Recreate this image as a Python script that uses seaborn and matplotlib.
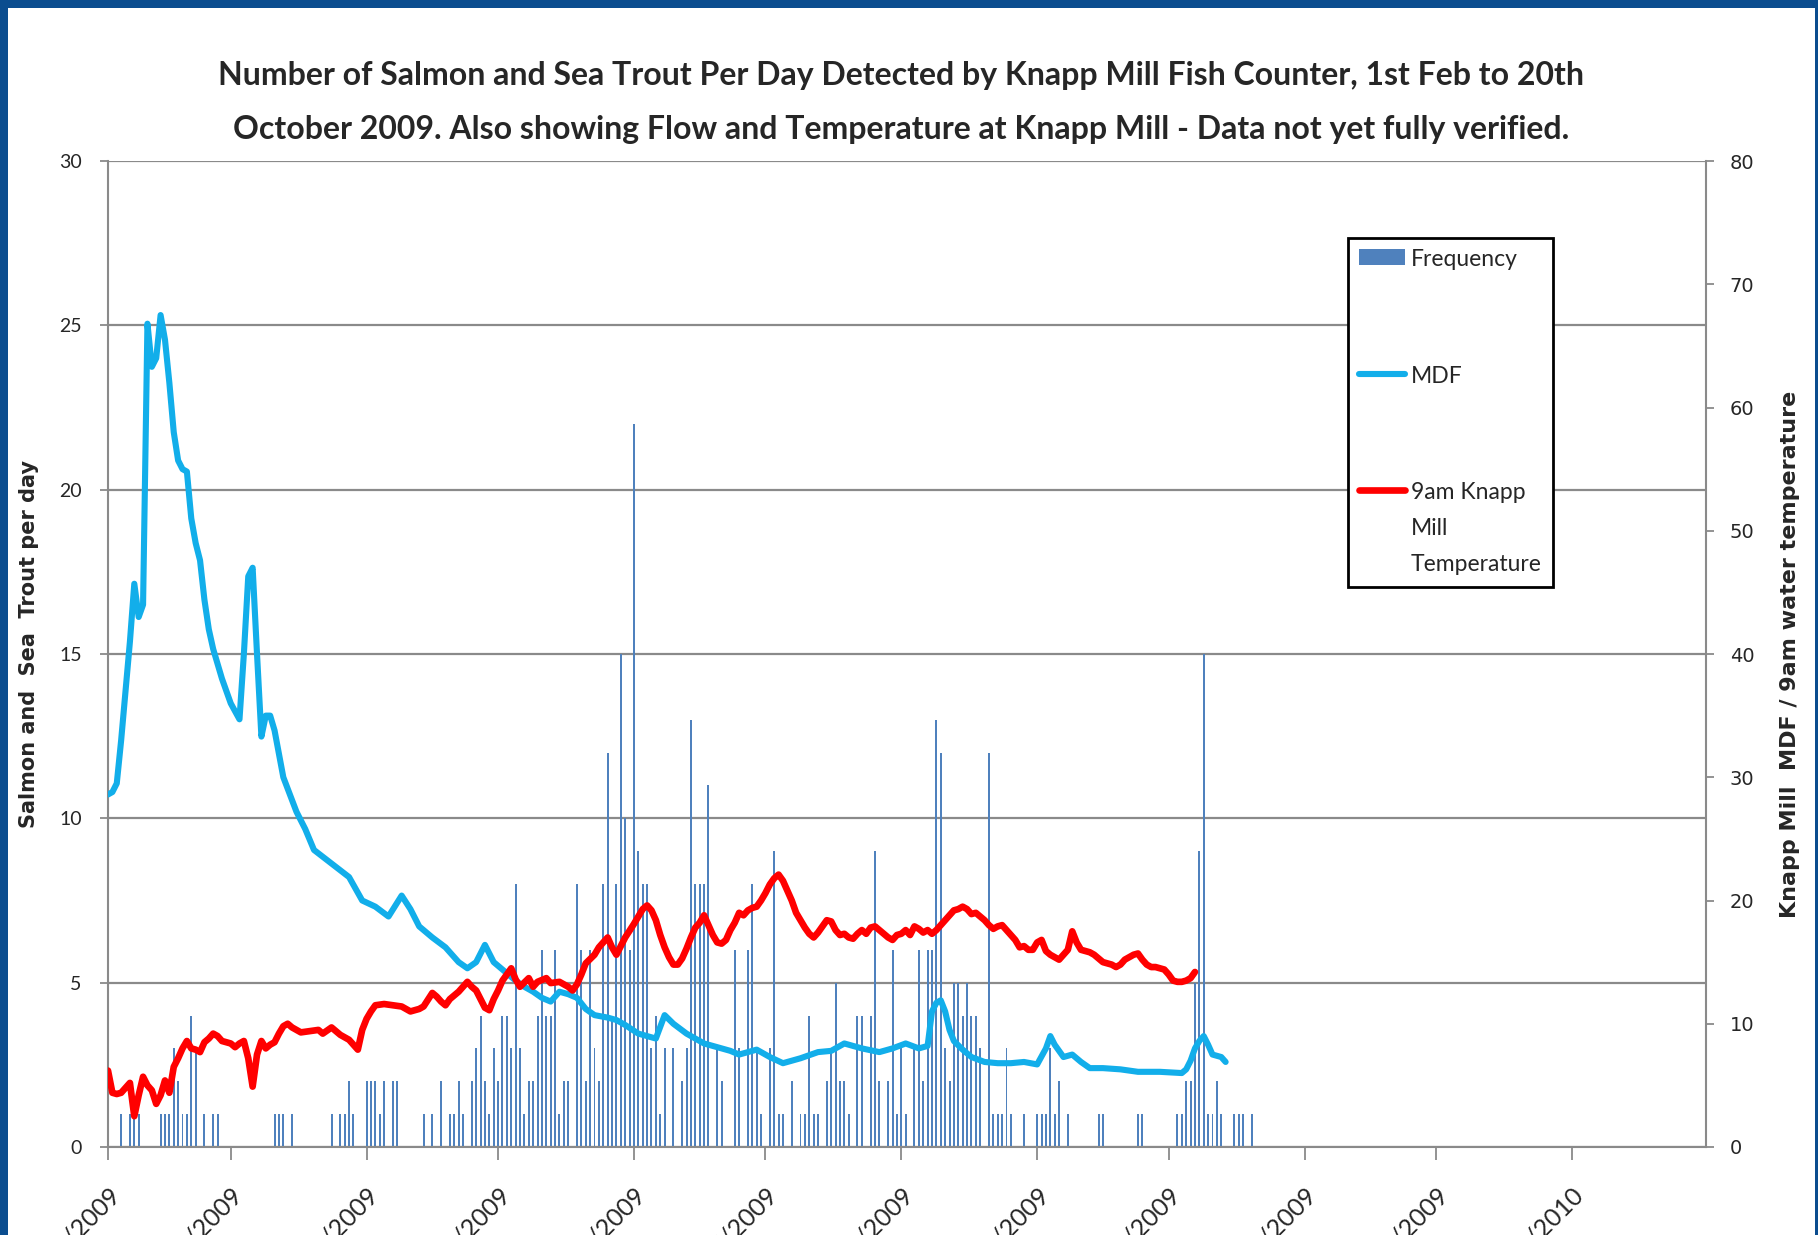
"""
Knapp Mill fish counter, Feb - Oct 2009.

Daily salmon / sea trout counts as bars (left axis),
MDF flow and 9am water temperature as lines (right axis).
"""

import matplotlib
matplotlib.use("Agg")
import matplotlib.pyplot as plt
import matplotlib.dates as mdates
from matplotlib.lines import Line2D
from matplotlib.patches import Patch, Rectangle
import pandas as pd
import seaborn as sns

SEASON_START = "2009-02-01"

# -- Daily fish counts, one list per month (Feb 1st .. Oct 20th) --
fish_feb = [0, 0, 0, 1, 0, 1, 1, 1, 0, 0, 0, 0, 1, 1, 1, 3, 2, 1, 1, 4,
            3, 0, 1, 0, 1, 1, 0, 0]
fish_mar = [0, 0, 0, 0, 0, 0, 0, 0, 0, 0, 1, 1, 1, 0, 1, 0, 0, 0, 0, 0,
            0, 0, 0, 1, 0, 1, 1, 2, 1, 0, 0]
fish_apr = [2, 2, 2, 1, 2, 0, 2, 2, 0, 0, 0, 0, 0, 1, 0, 1, 0, 2, 0, 1,
            1, 2, 1, 0, 2, 3, 4, 2, 1, 3]
fish_may = [2, 4, 4, 3, 8, 3, 1, 2, 2, 4, 6, 4, 4, 6, 1, 2, 2, 0, 8, 6,
            2, 6, 3, 2, 8, 12, 4, 8, 15, 10, 6]
fish_jun = [22, 9, 8, 8, 3, 4, 1, 3, 0, 3, 0, 2, 3, 13, 8, 8, 8, 11, 0, 3,
            2, 0, 0, 6, 3, 0, 6, 8, 3, 1]
fish_jul = [0, 3, 9, 1, 1, 0, 2, 0, 1, 1, 4, 1, 1, 0, 2, 3, 5, 2, 2, 1,
            0, 4, 4, 0, 4, 9, 2, 0, 2, 6, 1]
fish_aug = [3, 1, 0, 3, 6, 2, 6, 6, 13, 12, 3, 2, 5, 5, 4, 5, 4, 4, 3, 0,
            12, 1, 1, 1, 3, 1, 0, 0, 1, 0, 0]
fish_sep = [1, 1, 1, 3, 1, 2, 0, 1, 0, 0, 0, 0, 0, 0, 1, 1, 0, 0, 0, 0,
            0, 0, 0, 1, 1, 0, 0, 0, 0, 0]
fish_oct = [0, 0, 1, 1, 2, 2, 5, 9, 15, 1, 1, 2, 1, 0, 0, 1, 1, 1, 0, 1]

# -- MDF (flow), day offset from Feb 1st and reading --
mdf_day = [0, 1, 2, 3, 4, 5, 6, 7, 8, 9, 10, 11, 12, 13, 14, 15, 16, 17, 18, 19,
           20, 21, 22, 23, 24, 26, 28, 30, 31, 32, 33, 34, 35, 36, 37, 38, 40, 43,
           45, 47, 51, 55, 58, 61, 64, 67, 69, 71, 74, 77, 80, 82, 84, 86, 88, 90,
           93, 95, 97, 99, 101, 103, 105, 107, 109, 111, 114, 116, 118, 121, 123,
           125, 127, 129, 132, 134, 136, 139, 142, 144, 146, 148, 151, 154, 156,
           158, 162, 165, 168, 170, 172, 176, 179, 182, 185, 187, 188, 189, 190,
           191, 192, 193, 195, 197, 200, 203, 206, 209, 212, 214, 215, 216, 218,
           220, 222, 224, 227, 231, 235, 240, 245, 246, 247, 248, 249, 250, 251,
           252, 253, 254, 255]
mdf_value = [28.6, 28.8, 29.5, 33, 37, 41, 45.7, 43, 44, 66.8, 63.3, 64, 67.5, 65.5,
             62, 58, 55.7, 55, 54.8, 51, 49, 47.6, 44.4, 42, 40.4, 38, 36, 34.7, 40,
             46.3, 47, 40, 33.3, 35, 35, 33.8, 30, 27.2, 25.8, 24.1, 23, 21.9, 20,
             19.5, 18.7, 20.4, 19.3, 17.9, 17, 16.2, 15, 14.5, 15, 16.4, 15, 14.4,
             13.5, 13, 12.6, 12.1, 11.8, 12.6, 12.4, 12.1, 11.2, 10.7, 10.5, 10.3,
             9.9, 9.2, 9, 8.8, 10.7, 10.0, 9.2, 8.8, 8.4, 8.1, 7.8, 7.5, 7.7, 7.9,
             7.3, 6.8, 7, 7.2, 7.7, 7.8, 8.4, 8.2, 8, 7.7, 8, 8.4, 8, 8.2, 11, 11.7,
             11.9, 11, 9.5, 8.6, 7.9, 7.3, 6.9, 6.8, 6.8, 6.9, 6.7, 8, 9, 8.3, 7.3,
             7.5, 6.9, 6.4, 6.4, 6.3, 6.1, 6.1, 6, 6.3, 7, 8, 8.6, 9, 8.3, 7.5, 7.4,
             7.3, 6.9]

# -- 9am water temperature at Knapp Mill --
temp_day = [0, 1, 2, 3, 4, 5, 6, 7, 8, 9, 10, 11, 12, 13, 14, 15, 16, 17, 18, 19,
            20, 21, 22, 23, 24, 25, 26, 27, 28, 29, 30, 31, 32, 33, 34, 35, 36, 37,
            38, 39, 40, 41, 42, 44, 46, 48, 49, 51, 53, 55, 57, 58, 59, 60, 61, 63,
            65, 67, 69, 71, 72, 74, 75, 76, 77, 78, 80, 81, 82, 83, 84, 85, 86, 87,
            88, 89, 90, 91, 92, 93, 94, 96, 97, 98, 100, 101, 103, 105, 106, 107,
            108, 109, 111, 112, 114, 115, 116, 117, 118, 120, 122, 123, 124, 125,
            126, 127, 128, 129, 130, 131, 132, 133, 134, 135, 136, 137, 138, 139,
            140, 141, 142, 143, 144, 145, 146, 147, 148, 149, 150, 151, 152, 153,
            154, 155, 156, 157, 158, 159, 160, 161, 162, 163, 164, 165, 166, 167,
            168, 169, 170, 171, 172, 173, 174, 175, 176, 177, 178, 179, 180, 181,
            182, 183, 184, 185, 186, 187, 188, 189, 190, 191, 192, 193, 194, 195,
            196, 197, 198, 199, 200, 201, 202, 203, 204, 205, 206, 207, 208, 209,
            210, 211, 212, 213, 214, 215, 216, 217, 218, 219, 220, 221, 222, 223,
            224, 225, 226, 227, 228, 229, 230, 231, 232, 233, 234, 235, 236, 237,
            238, 239, 240, 241, 242, 243, 244, 245, 246, 247, 248]
temp_value = [6.2, 4.4, 4.3, 4.4, 4.8, 5.2, 2.5, 4.2, 5.7, 5.0, 4.6, 3.5, 4.2, 5.4,
              4.4, 6.5, 7.2, 8.0, 8.6, 8.0, 7.9, 7.7, 8.5, 8.8, 9.2, 9.0, 8.6, 8.5,
              8.4, 8.1, 8.4, 8.6, 7.2, 4.9, 7.5, 8.6, 8.0, 8.3, 8.5, 9.2, 9.8, 10.0,
              9.7, 9.3, 9.4, 9.5, 9.2, 9.7, 9.1, 8.7, 7.9, 9.5, 10.4, 11.0, 11.5,
              11.6, 11.5, 11.4, 11.0, 11.2, 11.4, 12.5, 12.2, 11.8, 11.5, 12.0, 12.6,
              13.0, 13.4, 13.0, 12.7, 12.0, 11.3, 11.1, 12.0, 12.7, 13.5, 14.0, 14.5,
              13.6, 13.0, 13.7, 13.0, 13.4, 13.7, 13.3, 13.4, 13.0, 12.7, 13.2, 14.0,
              14.9, 15.6, 16.2, 17.0, 16.2, 15.6, 16.3, 17.0, 18.1, 19.3, 19.6, 19.2,
              18.4, 17.2, 16.2, 15.4, 14.8, 14.8, 15.3, 16.1, 17.0, 17.8, 18.2, 18.8,
              18.0, 17.2, 16.6, 16.5, 16.8, 17.6, 18.2, 19.0, 18.8, 19.2, 19.4, 19.5,
              20.0, 20.6, 21.3, 21.8, 22.1, 21.6, 20.8, 20.0, 19.0, 18.4, 17.8, 17.3,
              17.0, 17.4, 17.9, 18.4, 18.3, 17.6, 17.2, 17.3, 17.0, 16.9, 17.3, 17.6,
              17.3, 17.8, 17.9, 17.6, 17.3, 17.0, 16.8, 17.2, 17.3, 17.6, 17.2, 17.9,
              17.7, 17.4, 17.6, 17.3, 17.6, 18.0, 18.4, 18.8, 19.2, 19.3, 19.5, 19.3,
              18.9, 19.0, 18.7, 18.4, 18.0, 17.7, 17.9, 18.0, 17.6, 17.2, 16.8, 16.2,
              16.3, 16.0, 16.0, 16.6, 16.8, 15.9, 15.6, 15.4, 15.2, 15.6, 16.0, 17.5,
              16.6, 16.0, 15.9, 15.8, 15.6, 15.3, 15.0, 14.9, 14.8, 14.6, 14.8, 15.2,
              15.4, 15.6, 15.7, 15.2, 14.8, 14.6, 14.6, 14.5, 14.4, 14.0, 13.5, 13.4,
              13.4, 13.5, 13.7, 14.2]

left_ticks = [0, 5, 10, 15, 20, 25, 30]
right_ticks = [0, 10, 20, 30, 40, 50, 60, 70, 80]

TITLE_LINES = [
    "Number of Salmon and Sea Trout Per Day Detected by Knapp Mill Fish Counter, 1st Feb to 20th",
    "October 2009. Also showing Flow and Temperature at Knapp Mill - Data not yet fully verified.",
]
LEFT_LABEL = "Salmon and  Sea  Trout per day"
RIGHT_LABEL = "Knapp Mill  MDF / 9am water temperature"
LEGEND_LABELS = ["Frequency", "MDF", "9am Knapp\nMill\nTemperature"]

BAR_COLOR = "#4f81bd"
MDF_COLOR = "#12aeea"
TEMP_COLOR = "#ff0000"
GRID_COLOR = "#8a8a8a"
FRAME_COLOR = "#0b4d8f"

# -- Build frames ---------------------------
start = pd.Timestamp(SEASON_START)
fish_counts = (fish_feb + fish_mar + fish_apr + fish_may + fish_jun
               + fish_jul + fish_aug + fish_sep + fish_oct)
fish_df = pd.DataFrame({
    "date": mdates.date2num(pd.date_range(start, periods=len(fish_counts), freq="D")),
    "count": fish_counts,
})
mdf_df = pd.DataFrame({
    "date": mdates.date2num(start + pd.to_timedelta(mdf_day, unit="D")),
    "mdf": mdf_value,
})
temp_df = pd.DataFrame({
    "date": mdates.date2num(start + pd.to_timedelta(temp_day, unit="D")),
    "temp": temp_value,
})

sns.set_style("white")
plt.rcParams["font.family"] = ["Lato", "DejaVu Sans"]

W, H = 1818, 1235
fig = plt.figure(figsize=(W / 100, H / 100), dpi=100, facecolor=FRAME_COLOR)
fig.add_artist(Rectangle((8 / W, 0), (W - 11) / W, (H - 8) / H,
                         transform=fig.transFigure, facecolor="white",
                         edgecolor="none", zorder=-10))

ax = fig.add_axes([108 / W, 88 / H, 1598 / W, 986 / H])
ax.set_facecolor("white")

# -- Bars: daily fish count -----------------
sns.barplot(data=fish_df, x="date", y="count", native_scale=True, width=0.45,
            color=BAR_COLOR, saturation=1, errorbar=None, linewidth=0, ax=ax)

# -- Lines on secondary axis ----------------
ax2 = ax.twinx()
sns.lineplot(data=mdf_df, x="date", y="mdf", ax=ax2, color=MDF_COLOR,
             linewidth=4.4, solid_joinstyle="round", solid_capstyle="round")
sns.lineplot(data=temp_df, x="date", y="temp", ax=ax2, color=TEMP_COLOR,
             linewidth=4.8, solid_joinstyle="round", solid_capstyle="round")

# -- Axes -----------------------------------
month_ticks = pd.date_range(start, periods=12, freq="MS")
ax.set_xlim(mdates.date2num(start), mdates.date2num(pd.Timestamp("2010-01-31")) + 0.6)
ax.set_xticks(mdates.date2num(month_ticks))
ax.set_xticklabels(month_ticks.strftime("%d/%m/%Y"), rotation=45, ha="right",
                   rotation_mode="anchor", fontsize=18)
ax.set_xlabel("")
ax2.set_xlabel("")

ax.set_ylim(0, 30)
ax.set_yticks(left_ticks)
ax.set_yticklabels([str(v) for v in left_ticks], fontsize=14)
ax2.set_ylim(0, 80)
ax2.set_yticks(right_ticks)
ax2.set_yticklabels([str(v) for v in right_ticks], fontsize=14,
                    fontfamily="DejaVu Sans")

ax.set_axisbelow(True)
ax.yaxis.grid(True, color=GRID_COLOR, linewidth=1.6)
ax.xaxis.grid(False)

ax.tick_params(axis="x", direction="out", length=9, width=1.3, color=GRID_COLOR,
               pad=17, bottom=True)
ax.tick_params(axis="y", direction="out", length=6, width=1.3, color=GRID_COLOR,
               pad=13, left=True)
ax2.tick_params(axis="y", direction="out", length=6, width=1.3, color=GRID_COLOR,
                pad=11, right=True)

for name, spine in ax.spines.items():
    spine.set_visible(name in ("left", "bottom"))
    spine.set_color(GRID_COLOR)
    spine.set_linewidth(1.5)
for name, spine in ax2.spines.items():
    spine.set_visible(name == "right")
    spine.set_color(GRID_COLOR)
    spine.set_linewidth(1.5)

ax.set_ylabel(LEFT_LABEL, fontsize=15, fontweight="bold", family="DejaVu Sans")
ax.yaxis.set_label_coords(-0.043, 0.51)
ax2.set_ylabel(RIGHT_LABEL, fontsize=16, fontweight="bold", family="DejaVu Sans")
ax2.yaxis.set_label_coords(1.046, 0.5)

# -- Title ----------------------------------
fig.text(901 / W, 1 - 75 / H, TITLE_LINES[0], ha="center", va="center",
         fontsize=23, fontweight="bold")
fig.text(901 / W, 1 - 130 / H, TITLE_LINES[1], ha="center", va="center",
         fontsize=23, fontweight="bold")

# -- Legend ---------------------------------
handles = [
    Patch(facecolor=BAR_COLOR, edgecolor="none"),
    Line2D([], [], color=MDF_COLOR, linewidth=4.4),
    Line2D([], [], color=TEMP_COLOR, linewidth=4.8),
]
leg = fig.legend(handles, LEGEND_LABELS, loc="upper left",
                 bbox_to_anchor=(1348 / W, 1 - 238 / H), borderaxespad=0,
                 fontsize=16.5, frameon=True, fancybox=False, edgecolor="black",
                 framealpha=1, handlelength=2.0, handletextpad=0.25,
                 borderpad=0.5, labelspacing=4.15)
leg.get_frame().set_linewidth(2)
leg.texts[2].set_linespacing(1.9)
# keep handles level with the first line of a wrapped label
for column in leg._legend_handle_box.get_children():
    for row in column.get_children():
        row.align = "top"

fig.savefig("out.png", dpi=100, facecolor=fig.get_facecolor())
plt.close(fig)
